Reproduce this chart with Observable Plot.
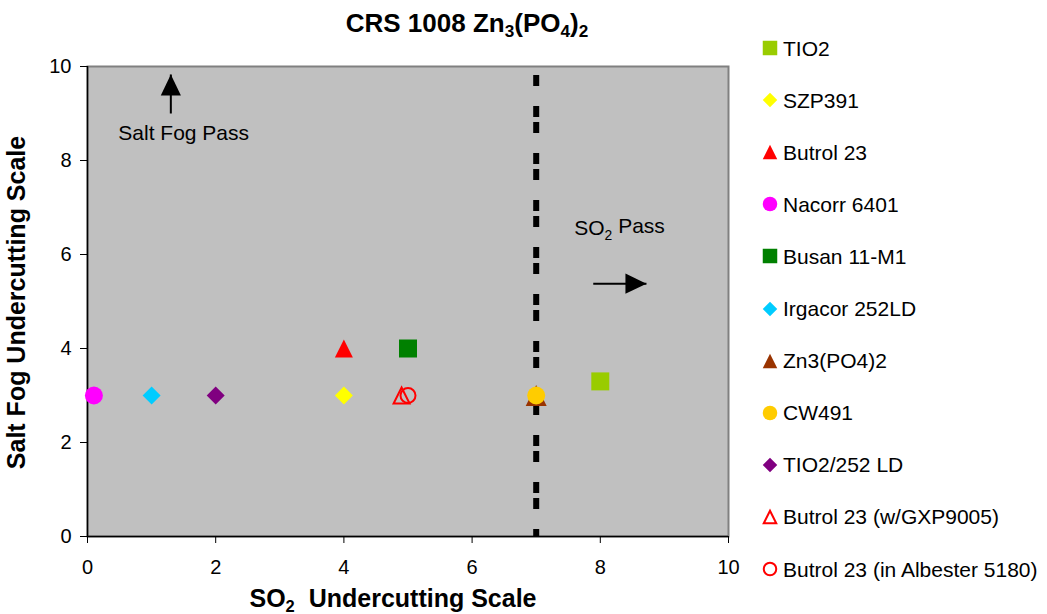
<!DOCTYPE html>
<html>
<head>
<meta charset="utf-8">
<script src="https://cdn.jsdelivr.net/npm/d3@7"></script>
<script src="https://cdn.jsdelivr.net/npm/@observablehq/plot@0.6"></script>
<style>
  body { margin: 0; background: #fff; }
  #wrap { position: relative; width: 1047px; height: 614px; font-family: "Liberation Sans", Arial, sans-serif; color: #000; }
  #chart { position: absolute; left: 0; top: 40px; }
  .ttl { position: absolute; font-weight: bold; white-space: nowrap; text-align: center; }
  .ttl sub { font-size: 0.66em; vertical-align: -0.28em; line-height: 0; }
  .leg { position: absolute; left: 760px; height: 26px; display: flex; align-items: center; font-size: 21px; line-height: 21px; white-space: nowrap; }
  .leg svg { width: 20px; height: 20px; margin-right: 3px; flex: none; }
</style>
</head>
<body>
<div id="wrap">
  <div class="ttl" id="title" style="left:267px; top:10px; width:400px; font-size:26px; line-height:26px;">CRS 1008 Zn<sub>3</sub>(PO<sub>4</sub>)<sub>2</sub></div>
  <div id="chart"></div>
  <div class="ttl" id="xtitle" style="left:193px; top:586px; width:400px; font-size:25px; line-height:25px;">SO<sub>2</sub>&nbsp; Undercutting Scale</div>
  <div class="ttl" id="ytitle" style="left:-184px; top:290px; width:400px; height:25px; font-size:25px; line-height:25px; transform: rotate(-90deg);">Salt Fog Undercutting Scale</div>
  <div id="legend"></div>
</div>
<script>
// ---- data ----
const seriesNames = ["TIO2", "SZP391", "Butrol 23", "Nacorr 6401", "Busan 11-M1", "Irgacor 252LD", "Zn3(PO4)2", "CW491", "TIO2/252 LD", "Butrol 23 (w/GXP9005)", "Butrol 23 (in Albester 5180)"];
const so2Values = [8, 4, 4, 0.1, 5, 1, 7, 7, 2, 4.9, 5];
const saltFogValues = [3.3, 3, 4, 3, 4, 3, 3, 3, 3, 3, 3];
const xTicks = [0, 2, 4, 6, 8, 10];
const yTicks = [0, 2, 4, 6, 8, 10];
const so2PassLimit = [7];
const annotationLabels = ["Salt Fog Pass", "SO2 Pass"];
const annotationX = [1.5, 8.3];
const annotationY = [8.57, 6.55];
const arrowFromX = [1.3, 7.89];
const arrowFromY = [9.0, 5.38];
const arrowToX = [1.3, 8.72];
const arrowToY = [9.83, 5.38];

// ---- styles ----
const seriesColors = ["#99CC00", "#FFFF00", "#FF0000", "#FF00FF", "#008000", "#00CCFF", "#993300", "#FFCC00", "#800080", "#FF0000", "#FF0000"];
const seriesSymbols = ["square", "diamond", "triangle", "circle", "square", "diamond", "triangle", "circle", "diamond", "triangle", "circle"];
const seriesFilled = [true, true, true, true, true, true, true, true, true, false, false];
const markerSide = [18, 18, 18, 18, 18, 18, 21, 18, 18, 16, 15];
const arrowRotate = [0, 90];

const SYM = {
  square: {draw(c, s) { const h = Math.sqrt(s) / 2; c.rect(-h, -h, 2 * h, 2 * h); }},
  diamond: {draw(c, s) { const h = Math.sqrt(s) / 2; c.moveTo(0, -h); c.lineTo(h, 0); c.lineTo(0, h); c.lineTo(-h, 0); c.closePath(); }},
  triangle: {draw(c, s) { const h = Math.sqrt(s) / 2; c.moveTo(0, -h); c.lineTo(h, h); c.lineTo(-h, h); c.closePath(); }},
  circle: {draw(c, s) { const r = Math.sqrt(s) / 2; c.moveTo(r, 0); c.arc(0, 0, r, 0, 2 * Math.PI); }},
  arrowHead: {draw(c, s) { const h = Math.sqrt(s); c.moveTo(0, 0); c.lineTo(h * 0.48, h); c.lineTo(-h * 0.48, h); c.closePath(); }}
};
const rFor = side => side / Math.sqrt(Math.PI);

const rows = seriesNames.map((name, i) => ({name, so2: so2Values[i], saltFog: saltFogValues[i]}));
const lineData = so2PassLimit.map(x => ({x, top: 10, bottom: 0}));
const annData = annotationLabels.map((t, i) => ({t, x: annotationX[i], y: annotationY[i]}));
const arrowData = arrowFromX.map((_, i) => ({x1: arrowFromX[i], y1: arrowFromY[i], x2: arrowToX[i], y2: arrowToY[i], rot: arrowRotate[i]}));

const dash = "0,9," + Array(11).fill("11,20,11,5").join(",");

const pointMarks = rows.map((row, i) => Plot.dot([row], {
  x: "so2", y: "saltFog",
  symbol: SYM[seriesSymbols[i]],
  r: rFor(markerSide[i]),
  fill: seriesFilled[i] ? seriesColors[i] : "none",
  stroke: seriesFilled[i] ? "none" : seriesColors[i],
  strokeWidth: seriesFilled[i] ? 0 : 2
}));

const chart = Plot.plot({
  width: 745, height: 574,
  marginTop: 26, marginBottom: 78, marginLeft: 87, marginRight: 17,
  x: {domain: [0, 10]},
  y: {domain: [0, 10]},
  style: {fontFamily: "'Liberation Sans', Arial, sans-serif", fontSize: "20px", color: "black", background: "transparent", overflow: "visible"},
  marks: [
    Plot.frame({fill: "#C0C0C0", stroke: "#808080", strokeWidth: 2}),
    Plot.ruleX([0], {stroke: "black", strokeWidth: 1.5}),
    Plot.ruleY([0], {stroke: "black", strokeWidth: 1.5}),
    Plot.axisX({ticks: xTicks, tickSize: 7, tickPadding: 16, label: null, fontSize: 20, stroke: "black", strokeOpacity: 1}),
    Plot.axisY({ticks: yTicks, tickSize: 7, tickPadding: 9, label: null, fontSize: 20, stroke: "black", strokeOpacity: 1}),
    Plot.ruleX(lineData, {x: "x", y1: "top", y2: "bottom", stroke: "black", strokeWidth: 6, strokeDasharray: dash, strokeLinecap: "butt"}),
    ...pointMarks,
    Plot.link(arrowData, {x1: "x1", y1: "y1", x2: "x2", y2: "y2", stroke: "black", strokeWidth: 2}),
    Plot.dot(arrowData, {x: "x2", y: "y2", symbol: SYM.arrowHead, r: rFor(21), rotate: "rot", fill: "black", stroke: "none"}),
    Plot.text(annData, {x: "x", y: "y", text: "t", fontSize: 21, fill: "black", textAnchor: "middle"})
  ]
});
document.getElementById("chart").appendChild(chart);

// subscript the "2" in SO2 inside the plot annotation
d3.select(chart).selectAll("text").each(function () {
  if (this.textContent === "SO2 Pass") {
    const t = d3.select(this);
    t.text(null);
    t.append("tspan").text("SO");
    t.append("tspan").attr("font-size", "0.66em").attr("dy", "0.3em").text("2");
    t.append("tspan").attr("dy", "-0.3em").text(" Pass");
  }
});

// legend
const legend = d3.select("#legend");
const legendTop = 48, legendStep = 52.1;
seriesNames.forEach((name, i) => {
  const row = legend.append("div").attr("class", "leg").style("top", (legendTop + i * legendStep - 13) + "px");
  const svg = row.append("svg").attr("viewBox", "-10 -10 20 20");
  const side = seriesFilled[i] ? 14.5 : 12.5;
  svg.append("path")
    .attr("d", d3.symbol(SYM[seriesSymbols[i]], side * side)())
    .attr("fill", seriesFilled[i] ? seriesColors[i] : "none")
    .attr("stroke", seriesFilled[i] ? "none" : seriesColors[i])
    .attr("stroke-width", seriesFilled[i] ? 0 : 2);
  row.append("span").text(name);
});
</script>
</body>
</html>
